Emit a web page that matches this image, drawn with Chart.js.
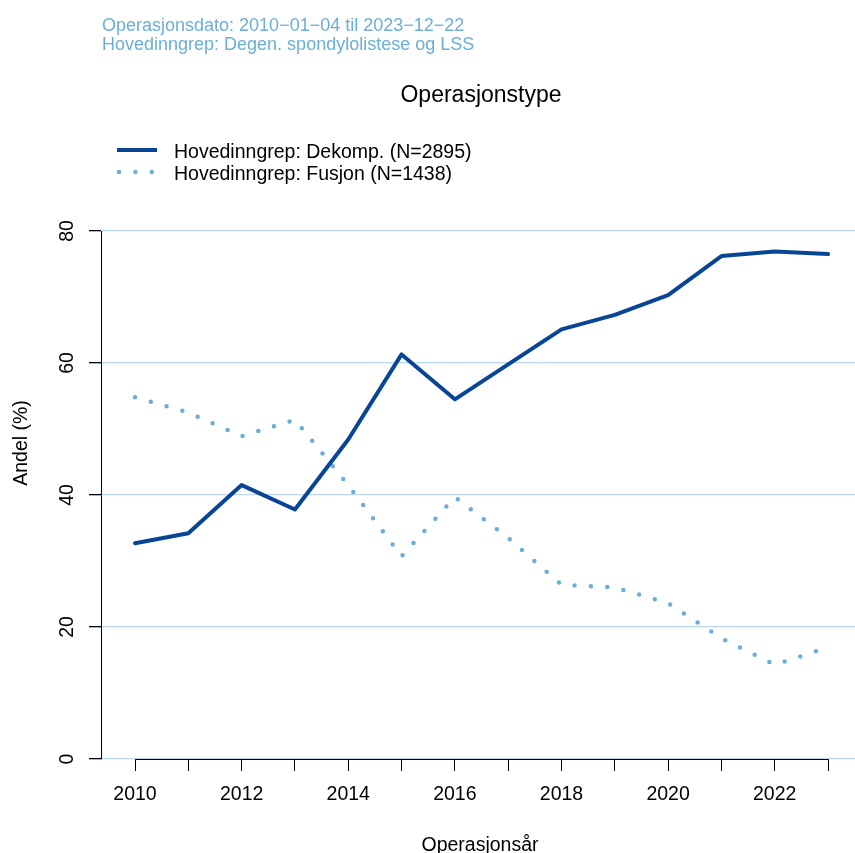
<!DOCTYPE html>
<html>
<head>
<meta charset="utf-8">
<script src="https://cdn.jsdelivr.net/npm/chart.js@4/dist/chart.umd.min.js"></script>
<style>
  body { margin: 0; background: #fff; }
  canvas { display: block; }
</style>
</head>
<body>
<canvas id="chart" width="855" height="853"></canvas>
<script>
const years = [2010, 2011, 2012, 2013, 2014, 2015, 2016, 2017, 2018, 2019, 2020, 2021, 2022, 2023];
const dekomp = [32.7, 34.2, 41.5, 37.8, 48.4, 61.3, 54.5, 59.8, 65.1, 67.3, 70.3, 76.2, 76.9, 76.5];
const fusjon = [54.8, 52.5, 48.9, 51.4, 41.5, 30.7, 39.7, 33.5, 26.4, 26.0, 23.6, 18.3, 14.3, 16.9];
const seriesLabels = ['Hovedinngrep: Dekomp. (N=2895)', 'Hovedinngrep: Fusjon (N=1438)'];
const yTicks = [0, 20, 40, 60, 80];
const subtitleLines = ['Operasjonsdato: 2010\u221201\u221204 til 2023\u221212\u221222',
                       'Hovedinngrep: Degen. spondylolistese og LSS'];
const mainTitle = 'Operasjonstype';
const xTitle = 'Operasjonsår';
const yTitle = 'Andel (%)';

const darkBlue = '#084594';
const lightBlue = '#6baed6';
const gridBlue = '#bcd6ee';
const FONT = '"Liberation Sans", Arial, Helvetica, sans-serif';

Chart.defaults.font.family = FONT;
Chart.defaults.color = '#000';

// text, legend and the short x axis line, placed like the R original
const overlay = {
    id: 'overlay',
    afterDraw(chart) {
        const ctx = chart.ctx;
        const xs = chart.scales.x;
        const area = chart.chartArea;
        ctx.save();

        ctx.strokeStyle = '#000';
        ctx.lineWidth = 1;
        ctx.beginPath();
        ctx.moveTo(Math.round(xs.getPixelForValue(years[0])) + 0.5, area.bottom + 0.5);
        ctx.lineTo(Math.round(xs.getPixelForValue(years[years.length - 1])) + 0.5, area.bottom + 0.5);
        ctx.stroke();

        ctx.fillStyle = lightBlue;
        ctx.font = '18px ' + FONT;
        ctx.textAlign = 'left';
        ctx.textBaseline = 'alphabetic';
        ctx.fillText(subtitleLines[0], 102, 30.5);
        ctx.fillText(subtitleLines[1], 102, 49.5);

        ctx.fillStyle = '#000';
        ctx.font = '23px ' + FONT;
        ctx.textAlign = 'center';
        ctx.fillText(mainTitle, 481, 101.5);

        // legend
        const sets = chart.data.datasets;
        const rows = [150, 172];
        sets.forEach((ds, i) => {
            ctx.strokeStyle = ds.borderColor;
            ctx.lineWidth = ds.borderWidth;
            ctx.lineCap = 'round';
            ctx.setLineDash(ds.borderDash || []);
            ctx.beginPath();
            if (ds.borderDash && ds.borderDash.length) {
                ctx.moveTo(119, rows[i]);
                ctx.lineTo(155, rows[i]);
            } else {
                ctx.lineCap = 'butt';
                ctx.moveTo(117, rows[i]);
                ctx.lineTo(157, rows[i]);
            }
            ctx.stroke();
            ctx.setLineDash([]);
            ctx.fillStyle = '#000';
            ctx.font = '19.5px ' + FONT;
            ctx.textAlign = 'left';
            ctx.fillText(ds.label, 174, rows[i] + 7.5);
        });

        ctx.font = '19.5px ' + FONT;
        ctx.textAlign = 'center';
        ctx.fillText(xTitle, 480, 851);

        ctx.translate(27, 443);
        ctx.rotate(-Math.PI / 2);
        ctx.fillText(yTitle, 0, 0);
        ctx.restore();
    }
};

const ctx = document.getElementById('chart').getContext('2d');
const myChart = new Chart(ctx, {
    type: 'line',
    data: {
        datasets: [{
            label: seriesLabels[0],
            data: years.map((y, i) => ({ x: y, y: dekomp[i] })),
            borderColor: darkBlue,
            borderWidth: 4,
            borderJoinStyle: 'round',
            borderCapStyle: 'round',
            pointRadius: 0,
            tension: 0
        }, {
            label: seriesLabels[1],
            data: years.map((y, i) => ({ x: y, y: fusjon[i] })),
            borderColor: lightBlue,
            borderWidth: 4.5,
            borderDash: [0, 16.4],
            borderCapStyle: 'round',
            pointRadius: 0,
            tension: 0
        }]
    },
    options: {
        responsive: false,
        animation: false,
        devicePixelRatio: 1,
        layout: { padding: { top: 231, left: 0, right: 0, bottom: 0 } },
        plugins: {
            legend: { display: false },
            tooltip: { enabled: false }
        },
        scales: {
            x: {
                type: 'linear',
                min: 2009.362,
                max: 2023.506,
                grid: { drawOnChartArea: false, drawTicks: true, tickLength: 12, tickColor: '#000' },
                border: { display: false },
                ticks: {
                    stepSize: 1,
                    includeBounds: false,
                    autoSkip: false,
                    maxRotation: 0,
                    padding: 12,
                    font: { size: 19.5 },
                    color: '#000',
                    callback: v => (v % 2 === 0 ? String(v) : '')
                },
                afterFit: scale => { scale.height = 94; }
            },
            y: {
                min: yTicks[0],
                max: yTicks[yTicks.length - 1],
                grid: { color: gridBlue, lineWidth: 1.3, drawTicks: true, tickLength: 12, tickColor: '#000' },
                border: { display: true, color: '#000', width: 1 },
                afterBuildTicks: scale => { scale.ticks = yTicks.map(v => ({ value: v })); },
                ticks: {
                    minRotation: 90,
                    maxRotation: 90,
                    crossAlign: 'center',
                    padding: 11,
                    font: { size: 19.5 },
                    color: '#000'
                },
                afterFit: scale => { scale.width = 101; }
            }
        }
    },
    plugins: [overlay]
});
</script>
</body>
</html>
